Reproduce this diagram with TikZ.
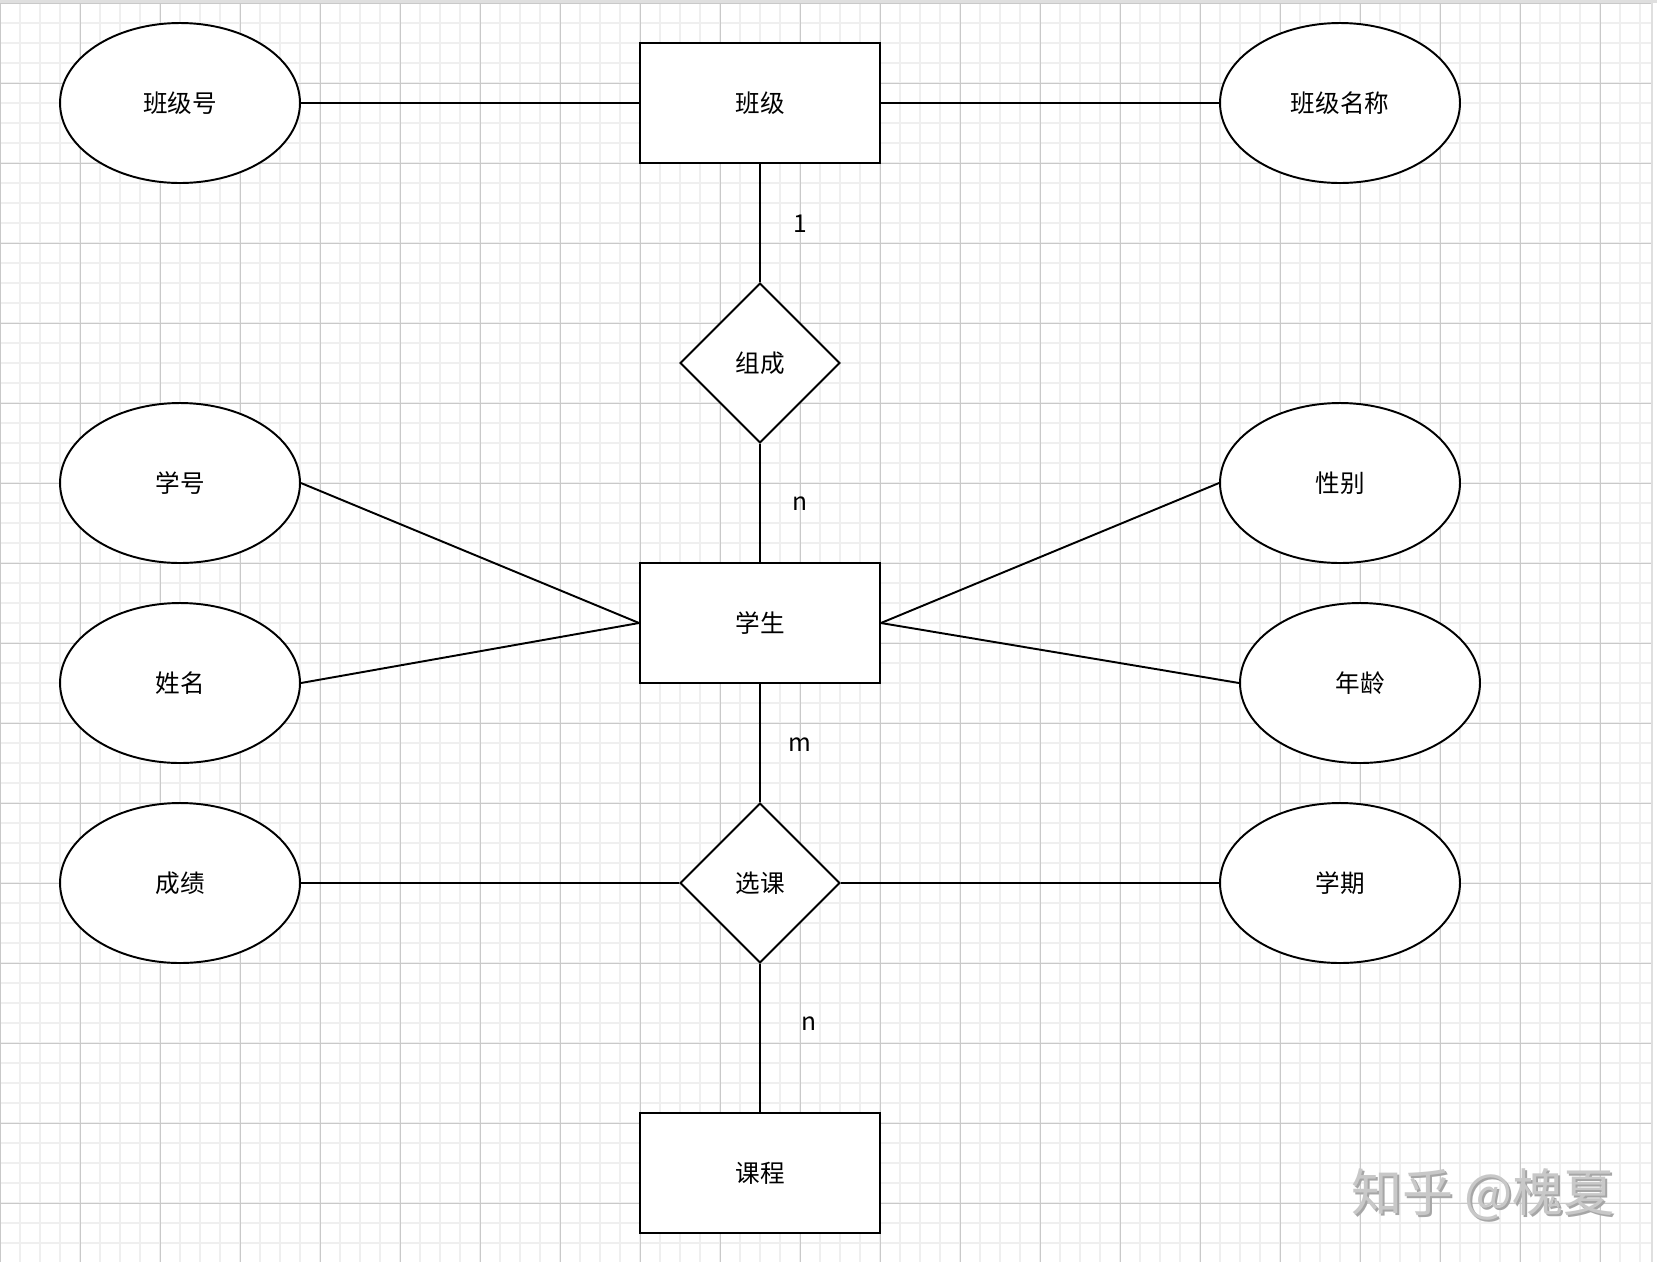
\documentclass[tikz,border=0pt]{standalone}
\usepackage{fontspec}
\setmainfont{Noto Sans CJK SC}
\usepackage{tikz}
\usetikzlibrary{shapes.geometric}

\definecolor{minorgrid}{HTML}{EFEFEF}
\definecolor{majorgrid}{HTML}{C9C9C9}
\definecolor{markgray}{HTML}{C8C8C8}

\begin{document}
\begin{tikzpicture}[x=0.02cm,y=-0.02cm,
  entity/.style={draw,line width=1.1pt,fill=white,rectangle,minimum width=4.8cm,minimum height=2.4cm,inner sep=0pt,font=\fontsize{14}{16}\selectfont},
  attrib/.style={draw,line width=1.1pt,fill=white,ellipse,minimum width=4.8cm,minimum height=3.2cm,inner sep=0pt,font=\fontsize{14}{16}\selectfont},
  relship/.style={draw,line width=1.1pt,fill=white,diamond,minimum width=3.2cm,minimum height=3.2cm,inner sep=0pt,font=\fontsize{14}{16}\selectfont},
  link/.style={line width=1.1pt},
  card/.style={font=\fontsize{14}{16}\selectfont}]

\useasboundingbox (0,0) rectangle (1657,1262);
\fill[white] (0,0) rectangle (1657,1262);

% background grid
\foreach \x in {0,20,...,1640} \draw[minorgrid,line width=0.7pt] (\x,0) -- (\x,1262);
\foreach \y in {3,23,...,1262} \draw[minorgrid,line width=0.7pt] (0,\y) -- (1652,\y);
\foreach \x in {0,80,...,1640} \draw[majorgrid,line width=0.5pt] (\x,0) -- (\x,1262);
\foreach \y in {3,83,...,1262} \draw[majorgrid,line width=0.5pt] (0,\y) -- (1652,\y);
\fill[majorgrid!60] (0,0) rectangle (1657,3);
\draw[majorgrid!60,line width=0.7pt] (1652,0) -- (1652,1262);

% --- Top Row ---
\node[attrib] (bjh) at (180,103) {班级号};
\node[entity] (bj) at (760,103) {班级};
\node[attrib] (bjmc) at (1340,103) {班级名称};

\node[relship] (zc) at (760,363) {组成};

% --- Middle Row ---
\node[attrib] (xh) at (180,483) {学号};
\node[attrib] (xb) at (1340,483) {性别};
\node[entity] (xs) at (760,623) {学生};
\node[attrib] (xm) at (180,683) {姓名};
\node[attrib] (nl) at (1360,683) {年龄};

% --- Bottom Row ---
\node[attrib] (cj) at (180,883) {成绩};
\node[relship] (xk) at (760,883) {选课};
\node[attrib] (xq) at (1340,883) {学期};
\node[entity] (kc) at (760,1173) {课程};

\draw[link] (bjh) -- (bj);
\draw[link] (bj) -- (bjmc);
\draw[link] (bj) -- (zc);
\draw[link] (zc) -- (xs);
\draw[link] (xh.east) -- (xs.west);
\draw[link] (xm.east) -- (xs.west);
\draw[link] (xb.west) -- (xs.east);
\draw[link] (nl.west) -- (xs.east);
\draw[link] (xs) -- (xk);
\draw[link] (cj) -- (xk);
\draw[link] (xk) -- (xq);
\draw[link] (xk) -- (kc);

\node[card] (c1) at (800,224) {1};
\node[card] (c2) at (800,504) {n};
\node[card] (c3) at (800,745) {m};
\node[card] (c4) at (809,1024) {n};

% watermark
\node[text=gray!70,font=\fontsize{29}{32}\selectfont] at (1485,1196) {知乎 @槐夏};
\node[text=markgray,font=\fontsize{29}{32}\selectfont] (wm) at (1483,1194) {知乎 @槐夏};

\end{tikzpicture}
\end{document}
